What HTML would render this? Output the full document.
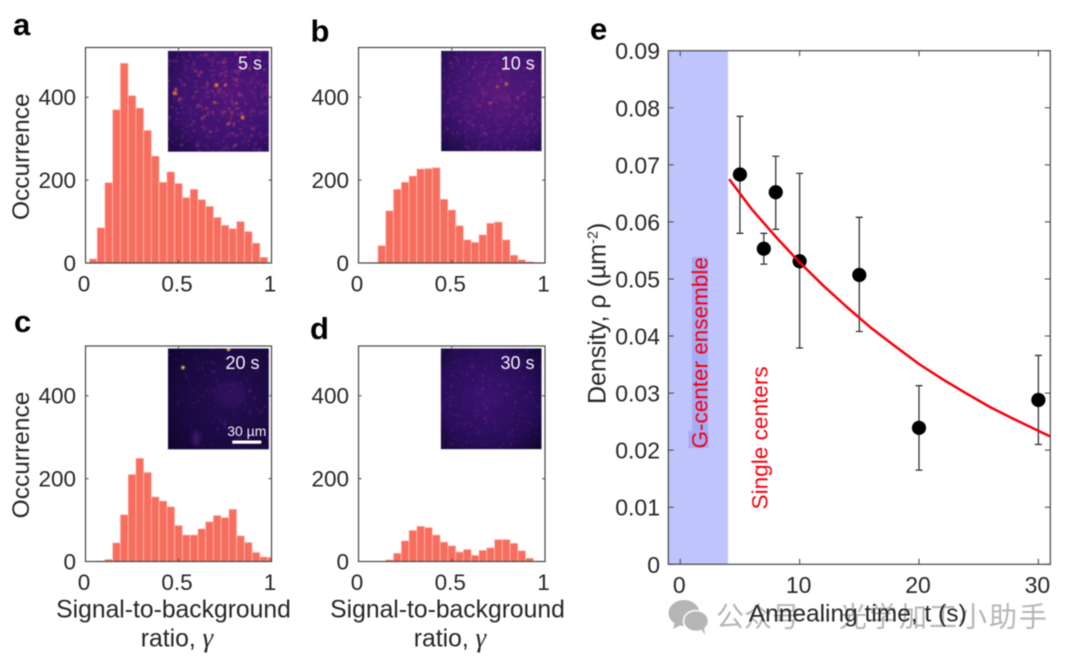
<!DOCTYPE html>
<html lang="en">
<head>
<meta charset="utf-8">
<title>G-center density histograms</title>
<style>
html,body{margin:0;padding:0;background:#fff;width:1080px;height:659px;overflow:hidden}
svg{display:block;filter:blur(.45px)}
text{font-family:"Liberation Sans","Noto Sans CJK SC",sans-serif;fill:#262626}
</style>
</head>
<body>
<svg id="fig" width="1080" height="659" viewBox="0 0 1080 659" xmlns="http://www.w3.org/2000/svg">
<defs>
<filter id="soft" x="-10%" y="-10%" width="120%" height="120%"><feGaussianBlur stdDeviation="0.7"/></filter>
<filter id="soft2" x="-50%" y="-50%" width="200%" height="200%"><feGaussianBlur stdDeviation="2"/></filter>
</defs>
</svg>
<script>
/* histogram data: bin index k is centred at k/24 */
const binCount = 24;
const yTicks = [0, 200, 400];
const xTicks = [0, 0.5, 1];
const xTickLabels = ['0', '0.5', '1'];
const countsA = [0,10,85,194,370,482,404,374,320,258,195,220,192,158,178,153,137,110,91,83,100,76,48,14,0];
const countsB = [0,0,1,42,126,178,195,210,227,228,230,154,128,90,56,50,68,96,99,56,19,8,3,1,0];
const countsC = [0,0,1,5,45,113,210,249,215,156,146,132,87,64,64,79,96,111,106,126,62,46,22,11,10];
const countsD = [0,0,0,0,4,20,50,75,85,82,64,47,38,23,29,15,27,33,53,53,44,26,8,1,0];

/* panel e data */
const annealTimes = [5, 7, 8, 10, 15, 20, 30];
const density = [0.0683, 0.0553, 0.0652, 0.0531, 0.0507, 0.0239, 0.0288];
const densityLow = [0.058, 0.0526, 0.0587, 0.0379, 0.0408, 0.0165, 0.021];
const densityHigh = [0.0785, 0.058, 0.0715, 0.0685, 0.0608, 0.0313, 0.0366];
const fitTimes = [4.1, 6, 8, 10, 12, 14, 16, 18, 20, 22, 24, 26, 28, 31];
const fitDensity = [0.0675, 0.0622, 0.0574, 0.0529, 0.0488, 0.045, 0.0414, 0.0382, 0.0351, 0.0324, 0.0299, 0.0275, 0.0254, 0.0224];
const eXTicks = [0, 10, 20, 30];
const eYTicks = [0, 0.01, 0.02, 0.03, 0.04, 0.05, 0.06, 0.07, 0.08, 0.09];
const eYTickLabels = ['0', '0.01', '0.02', '0.03', '0.04', '0.05', '0.06', '0.07', '0.08', '0.09'];
const ensembleEnd = 4;

const svg = document.getElementById('fig');
const NS = 'http://www.w3.org/2000/svg';
function mk(tag, attrs, parent) {
  const el = document.createElementNS(NS, tag);
  for (const k in attrs) el.setAttribute(k, attrs[k]);
  (parent || svg).appendChild(el);
  return el;
}
function label(str, attrs, parent) {
  const el = mk('text', attrs, parent);
  el.textContent = str;
  return el;
}
const AXIS = '#444';

function histogram(cfg) {
  const g = mk('g', {});
  
  
  const x = v => cfg.x0 + (cfg.x1 - cfg.x0) * v;
  const y = v => cfg.yb - (cfg.yb - cfg.yt) * v / 520;
  const barWidth = (cfg.x1 - cfg.x0) / binCount;
  cfg.data.forEach((c, k) => {
    if (c <= 0) return;
    const left = x(k / binCount) - barWidth / 2;
    const right = Math.min(left + barWidth, cfg.x1);
    const bar = mk('rect', {x: left, y: y(c), width: right - left, height: y(0) - y(c), fill: '#f76e5f', stroke: '#fcc4bc', 'stroke-width': 0.7}, g);
    
    
  });
  const frame = mk('rect', {x: cfg.x0, y: cfg.yt, width: cfg.x1 - cfg.x0, height: cfg.yb - cfg.yt, fill: 'none', stroke: AXIS, 'stroke-width': 1.2}, g);
  
  
  xTicks.forEach((t, i) => {
    const px = x(t);
    mk('path', {d: `M${px} ${cfg.yb}v-3M${px} ${cfg.yt}v3`, stroke: AXIS, 'stroke-width': 1}, g);
    const tl = label(xTickLabels[i], {x: px - 1.5, y: cfg.yb + 28.5, 'text-anchor': 'middle', 'font-size': 22.5}, g);
    
    
  });
  yTicks.forEach(t => {
    const py = y(t);
    mk('path', {d: `M${cfg.x0} ${py}h3M${cfg.x1} ${py}h-3`, stroke: AXIS, 'stroke-width': 1}, g);
    const tl = label(String(t), {x: cfg.x0 - 9.5, y: py + 8, 'text-anchor': 'end', 'font-size': 22.5}, g);
    
    
  });
  return {g, x, y};
}

/* deterministic speckle texture for the micrograph insets */
function inset(cfg) {
  const g = mk('g', {});
  
  
  const size = cfg.w;
  const clipId = 'clip' + cfg.tag;
  const defs = svg.querySelector('defs');
  const cp = mk('clipPath', {id: clipId}, defs);
  mk('rect', {x: cfg.x, y: cfg.y, width: size, height: size}, cp);
  const gid = 'grad' + cfg.tag;
  const rg = mk('radialGradient', {id: gid, cx: cfg.cx, cy: cfg.cy, r: 0.78}, defs);
  mk('stop', {offset: '0', 'stop-color': cfg.c0}, rg);
  mk('stop', {offset: '0.6', 'stop-color': cfg.c1}, rg);
  mk('stop', {offset: '1', 'stop-color': cfg.c2}, rg);
  const inner = mk('g', {'clip-path': `url(#${clipId})`}, g);
  mk('rect', {x: cfg.x, y: cfg.y, width: size, height: size, fill: `url(#${gid})`}, inner);
  const dots = mk('g', {filter: 'url(#soft)'}, inner);
  let s = cfg.seed;
  const rnd = () => (s = (s * 16807) % 2147483647) / 2147483647;
  for (let i = 0; i < cfg.n; i++) {
    const u = rnd(), v = rnd();
    const d = Math.hypot(u - cfg.cx, v - cfg.cy);
    if (rnd() > 1.15 - d * 1.25) continue;
    const hot = rnd();
    mk('circle', {cx: cfg.x + u * size, cy: cfg.y + v * size, r: 0.6 + rnd() * 0.6,
      fill: hot > 0.82 ? cfg.d2 : cfg.d1, opacity: 0.4 + rnd() * 0.5}, dots);
  }
  cfg.blobs.forEach(b => mk('circle', {cx: cfg.x + b[0] * size, cy: cfg.y + b[1] * size, r: b[2], fill: b[3], opacity: b[4] || 1}, dots));
  (cfg.large || []).forEach(b => mk('ellipse', {cx: cfg.x + b[0] * size, cy: cfg.y + b[1] * size, rx: b[2], ry: b[3], fill: b[4], opacity: b[5], filter: 'url(#soft2)'}, inner));
  const edge = mk('rect', {x: cfg.x, y: cfg.y, width: size, height: size, fill: 'none', stroke: '#d8d0e0', 'stroke-width': 0.6}, g);
  
  
  const t = label(cfg.label, {x: cfg.lx, y: cfg.ly, 'text-anchor': 'end', 'font-size': 18}, g);
  t.style.fill = '#f4f0f8';
  
  
}

histogram({id: 'a', data: countsA, x0: 85.5, x1: 271.5, yt: 47.5, yb: 263});
histogram({id: 'b', data: countsB, x0: 358.5, x1: 545, yt: 47.5, yb: 263});
histogram({id: 'c', data: countsC, x0: 85.5, x1: 271.5, yt: 346, yb: 561.5});
histogram({id: 'd', data: countsD, x0: 358.5, x1: 545, yt: 346, yb: 561.5});

inset({tag: 'a', x: 167.8, y: 50.7, w: 101.2, cx: 0.62, cy: 0.42, c0: '#4f1678', c1: '#3c1370', c2: '#200c4c', d1: '#8f2a86', d2: '#dc5f50', n: 800, seed: 1234,
  label: '5 s', lx: 262, ly: 69.5,
  blobs: [[0.48,0.34,1.9,'#f08436'],[0.07,0.42,2.2,'#e26a40'],[0.08,0.38,1.5,'#d0504a'],[0.74,0.66,1.9,'#ee7a38'],[0.57,0.34,1.1,'#f89a34'],[0.46,0.51,1.3,'#e8683c'],[0.6,0.72,1.3,'#dc5f50'],[0.68,0.52,1.2,'#dc5f50'],[0.67,0.93,1.1,'#dc5f50']]});
inset({tag: 'b', x: 441, y: 50.7, w: 100.7, cx: 0.58, cy: 0.42, c0: '#561a7a', c1: '#3d1470', c2: '#1c0b48', d1: '#72217f', d2: '#a53380', n: 950, seed: 9876,
  label: '10 s', lx: 534.8, ly: 69.5,
  blobs: [[0.65,0.33,1.4,'#f08436'],[0.56,0.36,1.2,'#e66a3c'],[0.49,0.52,1.3,'#c4486a'],[0.76,0.46,1.1,'#b83e72']]});
inset({tag: 'c', x: 167.8, y: 348.3, w: 101.2, cx: 0.62, cy: 0.48, c0: '#260e50', c1: '#1a0a42', c2: '#10062e', d1: '#421874', d2: '#6a2080', n: 260, seed: 4242,
  label: '20 s', lx: 259.5, ly: 369,
  blobs: [[0.15,0.19,1.7,'#fdd060'],[0.6,0.01,1.7,'#fdd060'],[0.81,0.42,1.1,'#92297e'],[0.86,0.49,1,'#7c2480']],
  large: [[0.28,0.89,4,8,'#511a80',0.7],[0.62,0.45,16,14,'#3e1470',0.35]]});
inset({tag: 'd', x: 440.7, y: 348.3, w: 101, cx: 0.45, cy: 0.48, c0: '#3a1370', c1: '#270d58', c2: '#0c0526', d1: '#4e1a78', d2: '#6c2080', n: 520, seed: 7531,
  label: '30 s', lx: 534.5, ly: 369,
  blobs: [[0.42,0.4,1,'#8a2884'],[0.65,0.45,1,'#8a2884'],[0.44,0.69,1,'#8a2884'],[0.32,0.31,0.9,'#7c2480'],[0.59,0.36,0.9,'#7c2480']]});

const scale = mk('rect', {x: 232.3, y: 440.5, width: 29, height: 3.2, fill: '#fff'});


const scaleText = label('30 µm', {x: 246.8, y: 436, 'text-anchor': 'middle', 'font-size': 14});
scaleText.style.fill = '#f4f0f8';



/* panel letters */
[['a', 13, 35], ['b', 310.5, 41.7], ['c', 14, 332], ['d', 310, 339], ['e', 590, 39.5]].forEach(p => {
  const t = label(p[0], {x: p[1], y: p[2], 'font-size': 31, 'font-weight': 'bold'});
  t.style.fill = '#000';
  
  
});

/* shared histogram axis titles */
[[29, 156.7], [29, 455]].forEach(p => {
  const t = label('Occurrence', {x: p[0], y: p[1], 'text-anchor': 'middle', 'font-size': 24.5, transform: `rotate(-90 ${p[0]} ${p[1]})`});
  
  
});
[[173.5, 177], [447.5, 450]].forEach(p => {
  const t = label('Signal-to-background', {x: p[0], y: 617.7, 'text-anchor': 'middle', 'font-size': 24.7}); 
  
  
  const r = label('ratio, ', {x: p[1], y: 646.7, 'text-anchor': 'middle', 'font-size': 24.7});
  
  
  const gam = mk('tspan', {'font-family': '"Liberation Serif",serif', 'font-style': 'italic', 'font-size': 27}, r);
  gam.textContent = 'γ';
});

/* panel e */
const ex0 = 668.3, ex1 = 1050.3, eyt = 50.7, eyb = 564.3;
const eX = t => ex0 + (t + 1) * (ex1 - ex0) / 32;
const eY = v => eyb - v * (eyb - eyt) / 0.09;
const eg = mk('g', {});


const shade = mk('rect', {x: ex0, y: eyt, width: eX(ensembleEnd) - ex0, height: eyb - eyt, fill: '#c0c4fc'}, eg);


const hl = mk('rect', {x: 692, y: 257, width: 16, height: 191, fill: '#a5acf6'}, eg);


const hl2 = mk('rect', {x: 688.5, y: 431, width: 20, height: 17, fill: '#a5acf6'}, eg);



annealTimes.forEach((t, i) => {
  const px = eX(t);
  const e = mk('path', {d: `M${px} ${eY(densityLow[i])}V${eY(densityHigh[i])}M${px - 3.5} ${eY(densityLow[i])}h7M${px - 3.5} ${eY(densityHigh[i])}h7`, stroke: '#333', 'stroke-width': 1.3, fill: 'none'}, eg);
  
  
});
annealTimes.forEach((t, i) => {
  const c = mk('circle', {cx: eX(t), cy: eY(density[i]), r: 7.1, fill: '#000'}, eg);
  
  
});
const fit = mk('polyline', {points: fitTimes.map((t, i) => eX(t) + ',' + eY(fitDensity[i])).join(' '), fill: 'none', stroke: '#f5000c', 'stroke-width': 2.5, 'stroke-linejoin': 'round'}, eg);



const eframe = mk('rect', {x: ex0, y: eyt, width: ex1 - ex0, height: eyb - eyt, fill: 'none', stroke: AXIS, 'stroke-width': 1.2}, eg);


eXTicks.forEach(t => {
  const px = eX(t);
  mk('path', {d: `M${px} ${eyb}v-5.5M${px} ${eyt}v5.5`, stroke: AXIS, 'stroke-width': 1}, eg);
  const tl = label(String(t), {x: px - 1, y: 593, 'text-anchor': 'middle', 'font-size': 23}, eg);
  
  
});
eYTicks.forEach((v, i) => {
  const py = eY(v);
  mk('path', {d: `M${ex0} ${py}h5.5M${ex1} ${py}h-5.5`, stroke: AXIS, 'stroke-width': 1}, eg);
  const tl = label(eYTickLabels[i], {x: 660, y: py + 8.5, 'text-anchor': 'end', 'font-size': 23}, eg);
  
  
});

const ens = label('G-center ensemble', {x: 0, y: 0, 'font-size': 22.5, transform: 'translate(707.5 448.5) rotate(-90)'}, eg);
ens.style.fill = '#f5000c';


const sing = label('Single centers', {x: 0, y: 0, 'font-size': 22.6, transform: 'translate(767.5 509.5) rotate(-90)'}, eg);
sing.style.fill = '#f5000c';



const dens = label('Density, ρ (µm', {x: 0, y: 0, 'font-size': 25, transform: 'translate(605.5 404) rotate(-90)'}, eg);


const sup = mk('tspan', {dy: -8, 'font-size': 14.5}, dens);
sup.textContent = '-2';
const close = mk('tspan', {dy: 8}, dens);
close.textContent = ')';

/* watermark */
const wm = mk('g', {});


const wi = mk('g', {fill: '#b6b6b6'}, wm);


mk('ellipse', {cx: 684, cy: 613, rx: 15.5, ry: 13}, wi);
mk('path', {d: 'M675 622l-2 7 8-4z'}, wi);
mk('ellipse', {cx: 696, cy: 621, rx: 12.5, ry: 10.5, stroke: '#fff', 'stroke-width': 1.5}, wi);
mk('path', {d: 'M701 629l4 6-1-8z'}, wi);
[['公众号', 716, 0], ['·', 818, 0], ['光学加工小助手', 839, 2]].forEach(p => {
  const t = label(p[0], {x: p[1], y: 626.5, 'font-size': 28, 'letter-spacing': p[2]}, wm);
  t.style.fill = '#b6b6b6';
  t.style.fontFamily = '"Liberation Sans","Noto Sans CJK SC",sans-serif';
  
  
});

const xt = label('Annealing time, t (s)', {x: 857.7, y: 621.5, 'text-anchor': 'middle', 'font-size': 24.5});


</script>
</body>
</html>
